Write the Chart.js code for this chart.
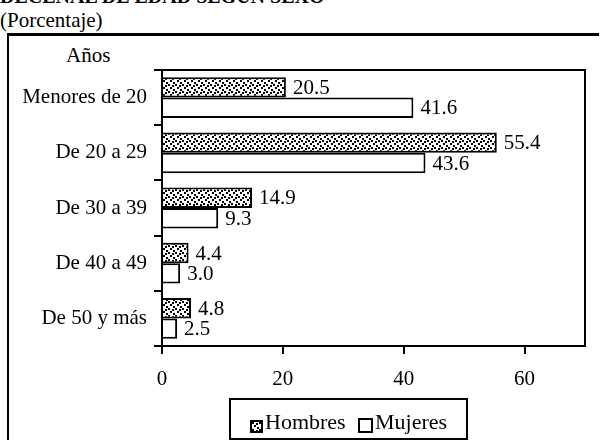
<!DOCTYPE html>
<html>
<head>
<meta charset="utf-8">
<script src="https://cdn.jsdelivr.net/npm/chart.js@4"></script>
<style>
  body { margin: 0; background: #fff; }
  #wrap { position: relative; width: 602px; height: 440px; overflow: hidden; background: #fff;
          font-family: "Liberation Serif", "Times New Roman", serif; color: #000; }
  .txt { position: absolute; white-space: nowrap; line-height: 22px; }
  #title { left: 0; top: -14px; font-size: 20px; font-weight: bold; line-height: 20px; }
  #subtitle { left: 0; top: 9px; font-size: 21px; }
  #frame { position: absolute; left: 7px; top: 33px; width: 592px; height: 420px;
           border-top: 3px solid #000; border-left: 2px solid #000; box-sizing: border-box; }
  #anos { left: 66px; top: 44px; font-size: 21px; }
  #chart { position: absolute; left: 0; top: 0; }
  #legend { position: absolute; left: 229px; top: 398px; width: 239px; height: 42px;
            border: 2px solid #000; box-sizing: border-box; }
  #legend .sw { position: absolute; box-sizing: border-box; border: 2px solid #000; }
  #legend .lt { position: absolute; font-size: 22px; line-height: 22px; white-space: nowrap; }
</style>
</head>
<body>
<div id="wrap">
  <div id="frame"></div>
  <div class="txt" id="title">DECENAL DE EDAD SEGÚN SEXO</div>
  <div class="txt" id="subtitle">(Porcentaje)</div>
  <div class="txt" id="anos">Años</div>
  <canvas id="chart" width="602" height="440"></canvas>
  <div id="legend">
    <span class="sw" id="swH" style="left:19px; top:20px; width:13px; height:13px;"></span>
    <span class="lt" style="left:34px; top:11px;">Hombres</span>
    <span class="sw" id="swM" style="left:127px; top:18px; width:15px; height:15px; background:#fff;"></span>
    <span class="lt" style="left:144px; top:11px;">Mujeres</span>
  </div>
</div>
<script>
const categories = ["Menores de 20", "De 20 a 29", "De 30 a 39", "De 40 a 49", "De 50 y más"];
const hombres = [20.5, 55.4, 14.9, 4.4, 4.8];
const mujeres = [41.6, 43.6, 9.3, 3.0, 2.5];
const xTicks = [0, 20, 40, 60];
const xMax = 70;

const serif = "'Liberation Serif', 'Times New Roman', serif";

// dotted fill used for Hombres
function makeDots() {
  const c = document.createElement("canvas");
  c.width = 7; c.height = 7;
  const g = c.getContext("2d");
  g.fillStyle = "#fff";
  g.fillRect(0, 0, 7, 7);
  g.fillStyle = "#000";
  [[0, 0], [4, 1], [2, 3], [5, 5]].forEach(p => g.fillRect(p[0], p[1], 2, 2));
  return c;
}
const dots = makeDots();
const ctx = document.getElementById("chart").getContext("2d");
const dotPattern = ctx.createPattern(dots, "repeat");
document.getElementById("swH").style.background = "url(" + dots.toDataURL() + ")";

// values written at the end of each bar
const valueLabels = {
  id: "valueLabels",
  afterDatasetsDraw(chart) {
    const c = chart.ctx;
    c.save();
    c.font = "21px " + serif;
    c.fillStyle = "#000";
    c.textAlign = "left";
    c.textBaseline = "middle";
    chart.data.datasets.forEach((ds, i) => {
      chart.getDatasetMeta(i).data.forEach((bar, j) => {
        c.fillText(ds.data[j].toFixed(1), bar.x + 7, bar.y + 1);
      });
    });
    c.restore();
  }
};

// box round the plot area
const plotBox = {
  id: "plotBox",
  afterDraw(chart) {
    const a = chart.chartArea;
    const c = chart.ctx;
    c.save();
    c.strokeStyle = "#000";
    c.lineWidth = 2;
    c.strokeRect(a.left, a.top, a.right - a.left, a.bottom - a.top);
    c.restore();
  }
};

new Chart(ctx, {
  type: "bar",
  data: {
    labels: categories,
    datasets: [
      { label: "Hombres", data: hombres, backgroundColor: dotPattern, borderColor: "#000", borderWidth: 2 },
      { label: "Mujeres", data: mujeres, backgroundColor: "#fff", borderColor: "#000", borderWidth: 2 }
    ]
  },
  options: {
    indexAxis: "y",
    responsive: false,
    animation: false,
    categoryPercentage: 0.74,
    barPercentage: 1,
    layout: { padding: { top: 70, right: 17, left: 0, bottom: 0 } },
    plugins: { legend: { display: false }, tooltip: { enabled: false } },
    scales: {
      x: {
        min: 0,
        max: xMax,
        afterBuildTicks: s => { s.ticks = xTicks.map(v => ({ value: v })); },
        afterFit: s => { s.height = 94; },
        ticks: { color: "#000", font: { family: serif, size: 21 }, padding: 13 },
        grid: { drawOnChartArea: false, tickLength: 8, color: "#000", lineWidth: 2 },
        border: { color: "#000", width: 2 }
      },
      y: {
        afterFit: s => { s.width = 162; },
        ticks: { color: "#000", font: { family: serif, size: 21 }, padding: 7 },
        grid: { offset: true, drawOnChartArea: false, tickLength: 8, color: "#000", lineWidth: 2 },
        border: { color: "#000", width: 2 }
      }
    }
  },
  plugins: [valueLabels, plotBox]
});
</script>
</body>
</html>
